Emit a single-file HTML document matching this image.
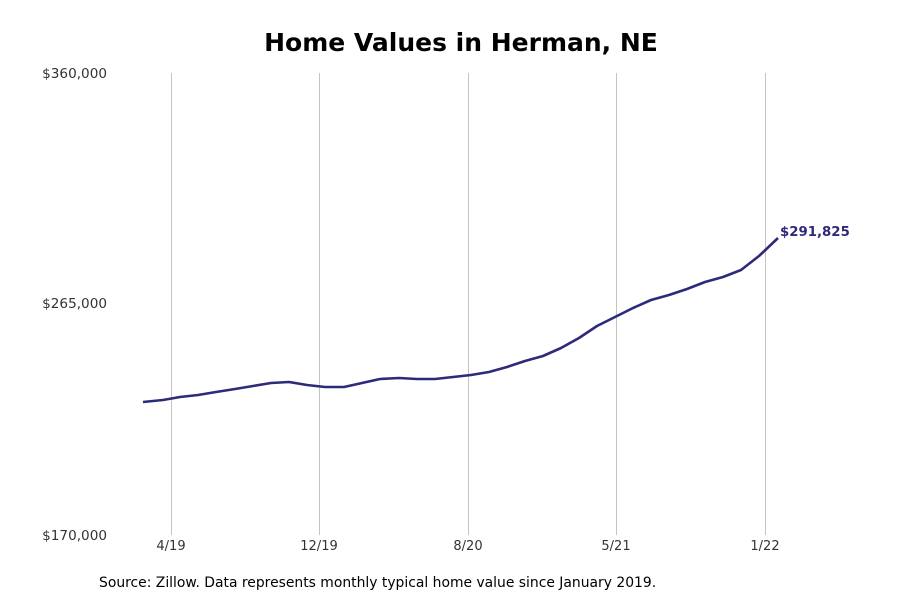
<!DOCTYPE html>
<html><head><meta charset="utf-8"><style>
body{margin:0;background:#fff;}
svg{display:block;font-family:"DejaVu Sans","Liberation Sans",sans-serif;}
</style></head><body>
<svg width="900" height="600" viewBox="0 0 900 600">
<rect width="900" height="600" fill="#fff"/>
<text x="461" y="51" text-anchor="middle" font-size="25" font-weight="bold" fill="#000">Home Values in Herman, NE</text>
<g stroke="#c4c4c4" stroke-width="1">
<line x1="171.5" y1="73" x2="171.5" y2="535"/>
<line x1="319.5" y1="73" x2="319.5" y2="535"/>
<line x1="468.5" y1="73" x2="468.5" y2="535"/>
<line x1="616.5" y1="73" x2="616.5" y2="535"/>
<line x1="765.5" y1="73" x2="765.5" y2="535"/>
</g>
<g font-size="13.6" fill="#333" text-anchor="end">
<text x="107" y="78">$360,000</text>
<text x="107" y="308">$265,000</text>
<text x="107" y="540">$170,000</text>
</g>
<g font-size="13" fill="#333" text-anchor="middle">
<text x="171" y="550">4/19</text>
<text x="319" y="550">12/19</text>
<text x="468" y="550">8/20</text>
<text x="616" y="550">5/21</text>
<text x="765" y="550">1/22</text>
</g>
<polyline fill="none" stroke="#2e2a7a" stroke-width="2.6" stroke-linejoin="round" points="143,402 163,400 180,397 198,395 216,392 235,389 253,386 271,383 289,382 307,385 325,387 344,387 362,383 380,379 399,378 417,379 435,379 453,377 471,375 489,372 507,367 525,361 543,356 561,348 579,338 597,326 615,317 633,308 651,300 669,295 687,289 705,282 723,277 741,270 759,256 778,238"/>
<text x="780" y="236" font-size="13.3" font-weight="bold" fill="#2e2a7a">$291,825</text>
<text x="99" y="587" font-size="13.9" fill="#000">Source: Zillow. Data represents monthly typical home value since January 2019.</text>
</svg>
</body></html>
